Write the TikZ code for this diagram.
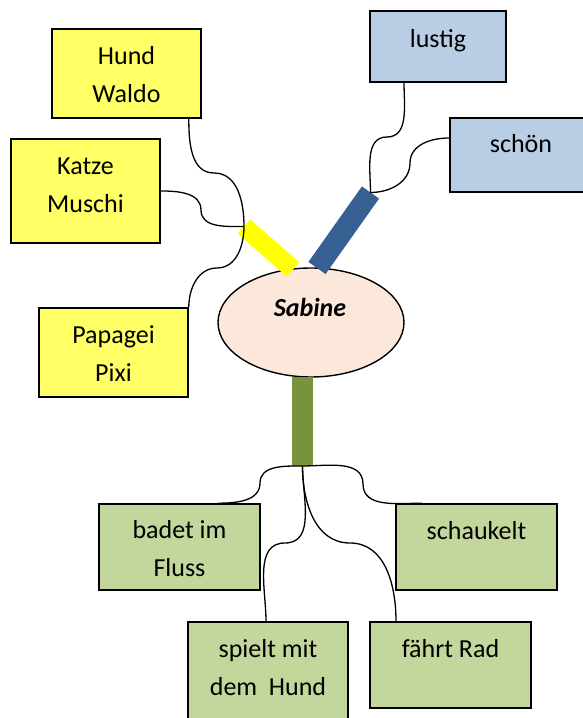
\documentclass[tikz,border=0pt]{standalone}
\usepackage{fontspec}
\setmainfont{Carlito}
\usetikzlibrary{shapes.geometric,calc}
\definecolor{boxyellow}{HTML}{FFFF66}
\definecolor{boxblue}{HTML}{B9CDE5}
\definecolor{boxgreen}{HTML}{C3D69B}
\definecolor{ellfill}{HTML}{FCE8DA}
\definecolor{baryellow}{HTML}{FFFF00}
\definecolor{barblue}{HTML}{376092}
\definecolor{bargreen}{HTML}{77933C}
\begin{document}
\begin{tikzpicture}[x=1pt,y=1pt,
  box/.style={draw=black, line width=1.6pt, inner sep=0pt},
  ybox/.style={box, fill=boxyellow},
  bbox/.style={box, fill=boxblue},
  gbox/.style={box, fill=boxgreen},
  lbl/.style={font=\fontsize{26}{38}\selectfont, align=center, anchor=base, inner sep=0pt},
  conn/.style={line width=1.3pt, draw=black},
  barline/.style={line width=#1, line cap=butt}
]
\clip (0,0) rectangle (583,718);
\fill[white] (0,0) rectangle (583,718);

% boxes
\node[ybox, minimum width=149pt, minimum height=89pt]  (hund)    at (126.5,644.5) {};
\node[ybox, minimum width=149pt, minimum height=104pt] (katze)   at (85.5,527) {};
\node[ybox, minimum width=149pt, minimum height=89pt]  (papagei) at (113.5,365.5) {};
\node[bbox, minimum width=136pt, minimum height=71pt]  (lustig)  at (438,671.5) {};
\node[bbox, minimum width=142pt, minimum height=74pt]  (schoen)  at (521,563) {};
\node[gbox, minimum width=161pt, minimum height=86pt]  (badet)   at (179.5,171) {};
\node[gbox, minimum width=161pt, minimum height=86pt]  (schaukelt) at (476.5,171) {};
\node[gbox, minimum width=160pt, minimum height=108pt] (spielt)  at (268,42) {};
\node[gbox, minimum width=161pt, minimum height=86pt]  (faehrt)  at (450.5,53) {};

% labels (base anchor = baseline of the last line)
\node[lbl] (hundT)    at (126.5,615) {Hund\\Waldo};
\node[lbl] (katzeT)   at (85.5,505) {Katze\\Muschi};
\node[lbl] (papageiT) at (113.5,336) {Papagei\\Pixi};
\node[lbl] (lustigT)  at (438,670) {lustig};
\node[lbl] (schoenT)  at (521,565) {schön};
\node[lbl] (badetT)   at (179.5,141) {badet im\\Fluss};
\node[lbl] (schaukeltT) at (476.5,178) {schaukelt};
\node[lbl] (spieltT)  at (268,23) {spielt mit\\dem\ \ Hund};
\node[lbl] (faehrtT)  at (450.5,60) {fährt Rad};

% central ellipse
\node[ellipse, draw=black, line width=1.4pt, fill=ellfill, minimum width=186pt, minimum height=109pt, inner sep=0pt] (sabine) at (311,395.5) {};
\node[lbl, font=\fontsize{26}{38}\selectfont\bfseries\itshape] (sabineT) at (310,401) {Sabine};

% bars
\coordinate (ya) at (244,491.5);
\coordinate (yb) at (293,448.5);
\coordinate (ba) at (370.5,525.5);
\coordinate (bb) at (317,450);
\coordinate (ga) at (302.5,341);
\coordinate (gb) at (302.5,252);
\draw[barline=19pt, baryellow] (ya) -- (yb);
\draw[barline=21pt, barblue] (ba) -- (bb);
\draw[barline=21pt, bargreen] (ga) -- (gb);

% notches
\coordinate (hn) at (214,545);
\coordinate (kn) at (201,508);
\coordinate (pn) at (217,450);
\coordinate (ln) at (387,581);
\coordinate (sn) at (410,555);
\coordinate (bn) at (260,235);
\coordinate (scn) at (363,234);
\coordinate (spn) at (285,175);
\coordinate (fn) at (350,175);

% connectors
\draw[conn] ([xshift=-13pt]hund.south east) to[out=-90,in=180] (hn) to[out=0,in=90] (ya);
\draw[conn] (katze.east) to[out=0,in=90] (kn) to[out=-90,in=180] (ya);
\draw[conn] (papagei.north east) to[out=90,in=180] (pn) to[out=0,in=-90] (ya);
\draw[conn] ([xshift=-34pt]lustig.south) to[out=-90,in=0] (ln) to[out=180,in=90] (ba);
\draw[conn] ([yshift=17pt]schoen.west) to[out=180,in=90] (sn) to[out=-90,in=0] (ba);
\draw[conn] (gb) to[out=180,in=90] (bn) to[out=-90,in=0] ([xshift=38.5pt]badet.north);
\draw[conn] (gb) to[out=0,in=90] (scn) to[out=-90,in=180] ([xshift=-54.5pt]schaukelt.north);
\draw[conn] (gb) to[out=-90,in=0] (spn) to[out=180,in=90] ([xshift=-2pt]spielt.north);
\draw[conn] (gb) to[out=-90,in=180] (fn) to[out=0,in=90] ([xshift=-54.5pt]faehrt.north);
\end{tikzpicture}
\end{document}
